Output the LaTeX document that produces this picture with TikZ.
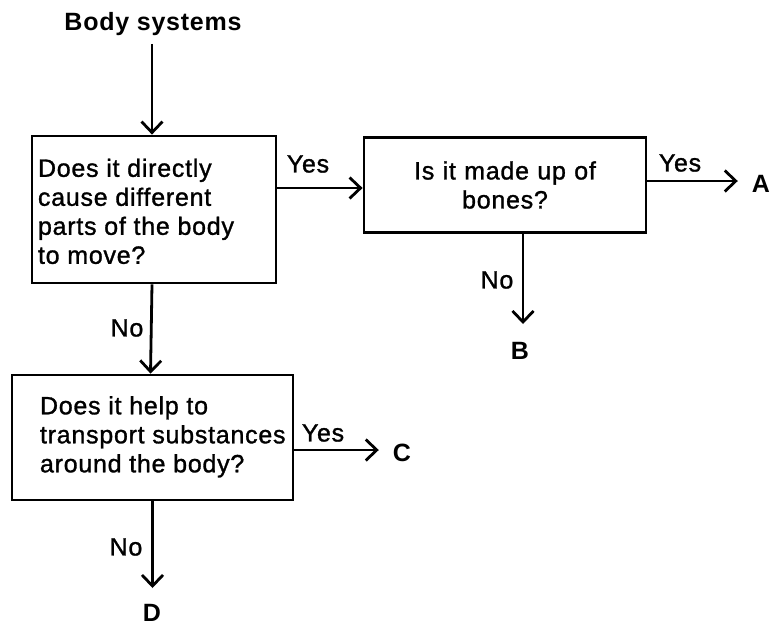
\documentclass[tikz,border=0pt]{standalone}
\usepackage{fontspec}
\setmainfont{Liberation Sans}[LetterSpace=3]
\newfontfamily\boxfont{Liberation Sans}[LetterSpace=3,FakeBold=1.2]
\usetikzlibrary{arrows.meta}
\begin{document}
\begin{tikzpicture}[x=1pt,y=-1pt,
  qbox/.style={draw,line width=2.8pt,minimum height=#1,inner ysep=0pt,font=\fontsize{25}{29}\selectfont\boxfont},
  lbl/.style={inner sep=0pt,font=\fontsize{25}{29}\selectfont\boxfont},
  blbl/.style={inner sep=0pt,font=\fontsize{25}{29}\selectfont\bfseries},
  arr/.style={line width=2.8pt,-{Straight Barb[length=11pt,width=21pt,line width=2.8pt]}}]
\useasboundingbox (0,0) rectangle (770,626);
% nodes
\node[blbl] (bs) at (153,24) {Body systems};
\node[qbox=147pt,inner xsep=0pt] (b1) at (154,209.5)
  {\makebox[244pt][l]{\hspace{6pt}\raisebox{-5pt}[\height][\depth]{\begin{tabular}{@{}l@{}}Does it directly\\cause different\\parts of the body\\to move?\end{tabular}}}};
\node[qbox=95pt,text width=270pt,inner xsep=6pt,align=center] (b2) at (505,185)
  {Is it made up of\\bones?};
\node[qbox=125pt,inner xsep=0pt] (b3) at (152.5,437.5)
  {\makebox[281pt][l]{\hspace{28pt}\begin{tabular}{@{}l@{}}Does it help to\\transport substances\\around the body?\end{tabular}}};
\node[blbl] (A) at (761,184) {A};
\node[blbl] (B) at (520,351) {B};
\node[blbl] (C) at (402,453) {C};
\node[blbl] (D) at (152,613) {D};
\node[lbl] (y1) at (308,164) {Yes};
\node[lbl] (y2) at (680,163) {Yes};
\node[lbl] (y3) at (323,433) {Yes};
\node[lbl] (n1) at (497,280) {No};
\node[lbl] (n2) at (127,328) {No};
\node[lbl] (n3) at (126,547) {No};
% connectors
\draw[arr] ([xshift=-2pt]b1.north |- bs.south) ++(0,8) -- ([xshift=-2pt]b1.north);
\draw[arr] (b1.east |- 0,188) -- (b2.west |- 0,188);
\draw[arr] (b2.east |- 0,181) -- ([xshift=-14pt]A.west |- 0,181);
\draw[arr] ([xshift=18pt]b2.south) -- ([xshift=18pt]b2.south |- 0,324);
\draw[arr] ([xshift=-2pt]b1.south) -- ([xshift=-2pt]b3.north);
\draw[arr] (b3.east |- 0,450) -- ([xshift=-14pt]C.west |- 0,450);
\draw[arr] (b3.south) -- (b3.south |- 0,588);
\end{tikzpicture}
\end{document}
